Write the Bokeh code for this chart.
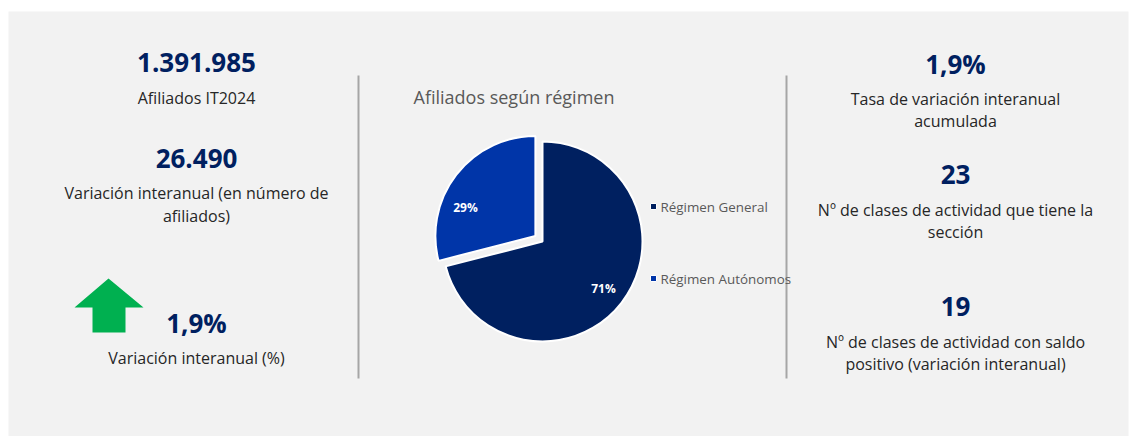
import math
from bokeh.plotting import figure
from bokeh.models import Range1d, ColumnDataSource
from bokeh.core.properties import value
from bokeh.embed import file_html
from bokeh.resources import INLINE

# ---------------- data ----------------
left_values = ["1.391.985", "26.490", "1,9%"]
left_labels = [["Afiliados IT2024"],
               ["Variación interanual (en número de", "afiliados)"],
               ["Variación interanual (%)"]]
right_values = ["1,9%", "23", "19"]
right_labels = [["Tasa de variación interanual", "acumulada"],
                ["Nº de clases de actividad que tiene la", "sección"],
                ["Nº de clases de actividad con saldo", "positivo (variación interanual)"]]
pie_title = "Afiliados según régimen"
regimen = ["Régimen General", "Régimen Autónomos"]
shares = [71, 29]
pie_colors = ["#002060", "#0035A8"]

W, H = 1130, 436
FONT = "Open Sans"
NAVY = "#002060"
TXT = "#262626"

def fx(x):
    return x

def fy(y):
    return H - y

p = figure(width=W, height=H, output_backend="svg", toolbar_location=None,
           x_range=Range1d(0, W), y_range=Range1d(0, H), min_border=0)
p.axis.visible = False
p.grid.visible = False
p.outline_line_color = None
p.background_fill_color = "white"
p.border_fill_color = "white"

# panel
p.quad(left=fx(8), right=fx(1128), top=fy(11), bottom=fy(440), fill_color="#f2f2f2", line_color=None)

# separators
p.segment(x0=[fx(358), fx(786)], y0=[fy(75), fy(75)], x1=[fx(358), fx(786)], y1=[fy(378), fy(378)],
          line_color="#a6a6a6", line_width=2)

def txt(x, y, s, size, color, bold=False, align="center"):
    p.text(x=[fx(x)], y=[fy(y)], text=[s], text_font=value(FONT), text_font_size=f"{size}px",
           text_color=color, text_align=align, text_baseline="middle",
           text_font_style="bold" if bold else "normal")

# left column
left_val_y = [62, 158, 322]
left_lab_y = [[97], [192, 215], [357]]
for v, vy, labs, ly in zip(left_values, left_val_y, left_labels, left_lab_y):
    txt(196, vy, v, 26, NAVY, bold=True)
    for s, yy in zip(labs, ly):
        txt(196, yy, s, 16, TXT)

# green arrow
ax = [fx(v) for v in [108, 143, 125, 125, 92, 92, 74]]
ay = [fy(v) for v in [278, 307, 307, 332, 332, 307, 307]]
p.patch(ax, ay, fill_color="#00B050", line_color=None)

# right column
right_val_y = [63, 174, 306]
right_lab_y = [[98, 120], [209, 231], [341, 363]]
for v, vy, labs, ly in zip(right_values, right_val_y, right_labels, right_lab_y):
    txt(955, vy, v, 26, NAVY, bold=True)
    for s, yy in zip(labs, ly):
        txt(955, yy, s, 16, TXT)

# pie
txt(413, 96, pie_title, 18, "#595959", align="left")
cx, cy, R = fx(542), fy(241), 100
total = sum(shares)
ang = math.pi / 2
starts, ends, xs, ys = [], [], [], []
explode = [0, 9]
for s, e in zip(shares, explode):
    a = 2 * math.pi * s / total
    # clockwise from 12 o'clock
    st, en = ang - a, ang
    mid = (st + en) / 2
    starts.append(st)
    ends.append(en)
    xs.append(cx + e * math.cos(mid))
    ys.append(cy + e * math.sin(mid))
    ang = st
src = ColumnDataSource(dict(x=xs, y=ys, start=starts, end=ends, color=pie_colors, name=regimen))
p.wedge(x="x", y="y", radius=R, start_angle="start", end_angle="end", fill_color="color",
        line_color="white", line_width=2, source=src)

# data labels
lab_pos = [(603, 288), (465, 207)]
for s, (lx, ly) in zip(shares, lab_pos):
    txt(lx, ly, f"{s}%", 12, "white", bold=True)

# legend
leg_y = [206, 278]
for name, col, ly in zip(regimen, pie_colors, leg_y):
    p.rect(x=[fx(653)], y=[fy(ly)], width=6, height=6, fill_color=col, line_color="white", line_width=1)
    txt(660, ly, name, 13.4, "#595959", align="left")

open("out.html", "w").write(file_html(p, INLINE))
